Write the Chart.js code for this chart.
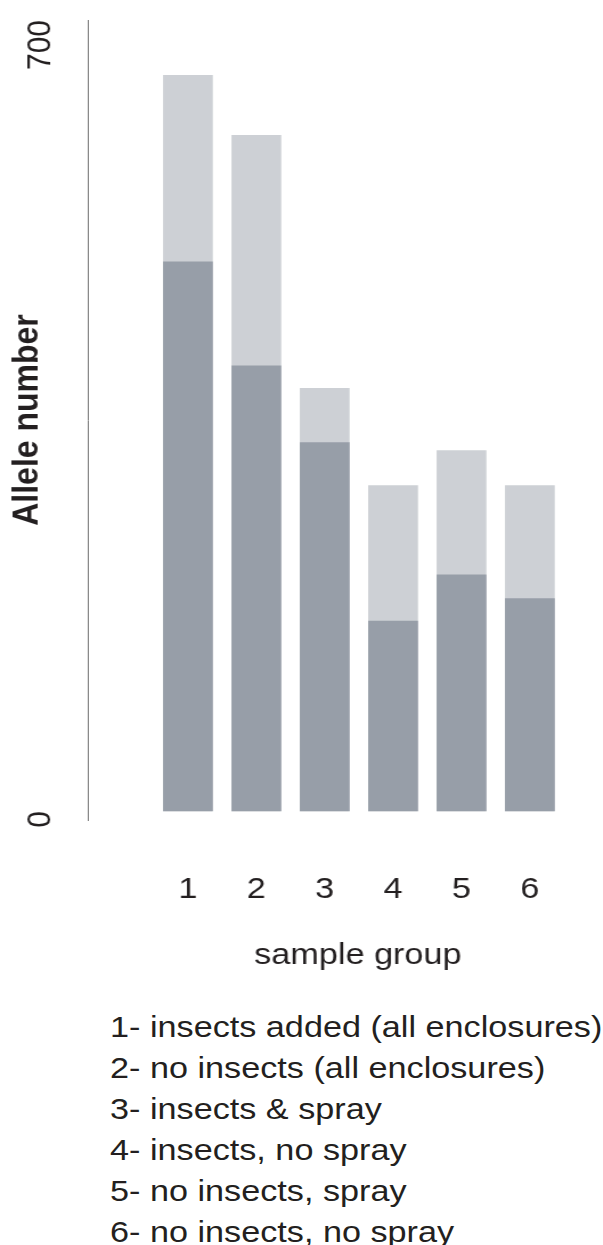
<!DOCTYPE html>
<html>
<head>
<meta charset="utf-8">
<script src="https://cdn.jsdelivr.net/npm/chart.js@4/dist/chart.umd.min.js"></script>
<style>
  html, body { margin: 0; padding: 0; background: #ffffff; overflow: hidden; width: 603px; height: 1245px; }
  #wrap { position: relative; width: 603px; height: 1245px; overflow: hidden; }
  #c { position: absolute; left: 0; top: 0; }
  #legend {
    position: absolute; left: 110px; top: 1006px;
    font-family: "Liberation Sans", Arial, sans-serif; font-size: 30px; line-height: 41px;
    color: #231f20; white-space: nowrap;
    transform: scaleX(1.14); transform-origin: 0 0;
  }
</style>
</head>
<body>
<div id="wrap">
  <canvas id="c" width="551" height="1000" style="width:628px;height:1000px;"></canvas>
  <div id="legend"></div>
</div>
<script>
// ---- data ----
const groups = [1, 2, 3, 4, 5, 6];
const groupLabels = ['1', '2', '3', '4', '5', '6'];
const totalAlleles = [651, 598, 374, 288, 319, 288];   // light bars
const subsetAlleles = [486, 394, 326, 168, 209, 188];  // dark bars
const yTickValues = [0, 700];
const groupDescriptions = [
  'insects added (all enclosures)',
  'no insects (all enclosures)',
  'insects & spray',
  'insects, no spray',
  'no insects, spray',
  'no insects, no spray'
];
const xAxisTitle = 'sample group';
const yAxisTitle = 'Allele number';

// ---- legend text ----
document.getElementById('legend').innerHTML =
  groupDescriptions.map((d, i) => '<div>' + groupLabels[i] + '- ' + d + '</div>').join('');

const textColor = '#231f20';
const fontFam = '"Liberation Sans", Arial, sans-serif';

new Chart(document.getElementById('c'), {
  type: 'bar',
  data: {
    datasets: [
      {
        label: 'subset',
        data: groups.map((g, i) => ({ x: g, y: subsetAlleles[i] })),
        backgroundColor: '#979ea8',
        grouped: false,
        barThickness: 43
      },
      {
        label: 'total',
        data: groups.map((g, i) => ({ x: g, y: totalAlleles[i] })),
        backgroundColor: '#cdd0d5',
        grouped: false,
        barThickness: 43
      }
    ]
  },
  options: {
    responsive: false,
    animation: false,
    devicePixelRatio: 1,
    layout: { padding: { top: 20, bottom: 26, left: 0, right: 0 } },
    plugins: { legend: { display: false }, tooltip: { enabled: false } },
    scales: {
      x: {
        type: 'linear',
        offset: false,
        min: -0.465,
        max: 7.435,
        grid: { display: false },
        border: { display: false },
        afterBuildTicks: (s) => { s.ticks = groups.map(v => ({ value: v })); },
        afterFit: (s) => { s.height = 154; s.paddingLeft = 0; s.paddingRight = 0; },
        ticks: {
          padding: 44,
          color: textColor,
          font: { family: fontFam, size: 30 },
          maxRotation: 0,
          autoSkip: false,
          callback: (v) => groupLabels[groups.indexOf(v)] ?? ''
        },
        title: {
          display: true,
          text: xAxisTitle,
          color: textColor,
          font: { family: fontFam, size: 30 },
          padding: { top: 31, bottom: 0 }
        }
      },
      y: {
        min: -8,
        max: 700,
        grid: { display: false },
        border: { display: true, color: '#7a7a7a', width: 1 },
        afterBuildTicks: (s) => { s.ticks = yTickValues.map(v => ({ value: v })); },
        afterFit: (s) => { s.width = 77; s.paddingTop = 0; s.paddingBottom = 0; },
        ticks: {
          padding: 33,
          color: textColor,
          font: { family: fontFam, size: 30 },
          minRotation: 90,
          maxRotation: 90
        },
        title: {
          display: true,
          text: yAxisTitle,
          color: textColor,
          font: { family: fontFam, size: 32, weight: 'bold' },
          padding: { top: 5, bottom: 0 }
        }
      }
    }
  }
});
</script>
</body>
</html>
